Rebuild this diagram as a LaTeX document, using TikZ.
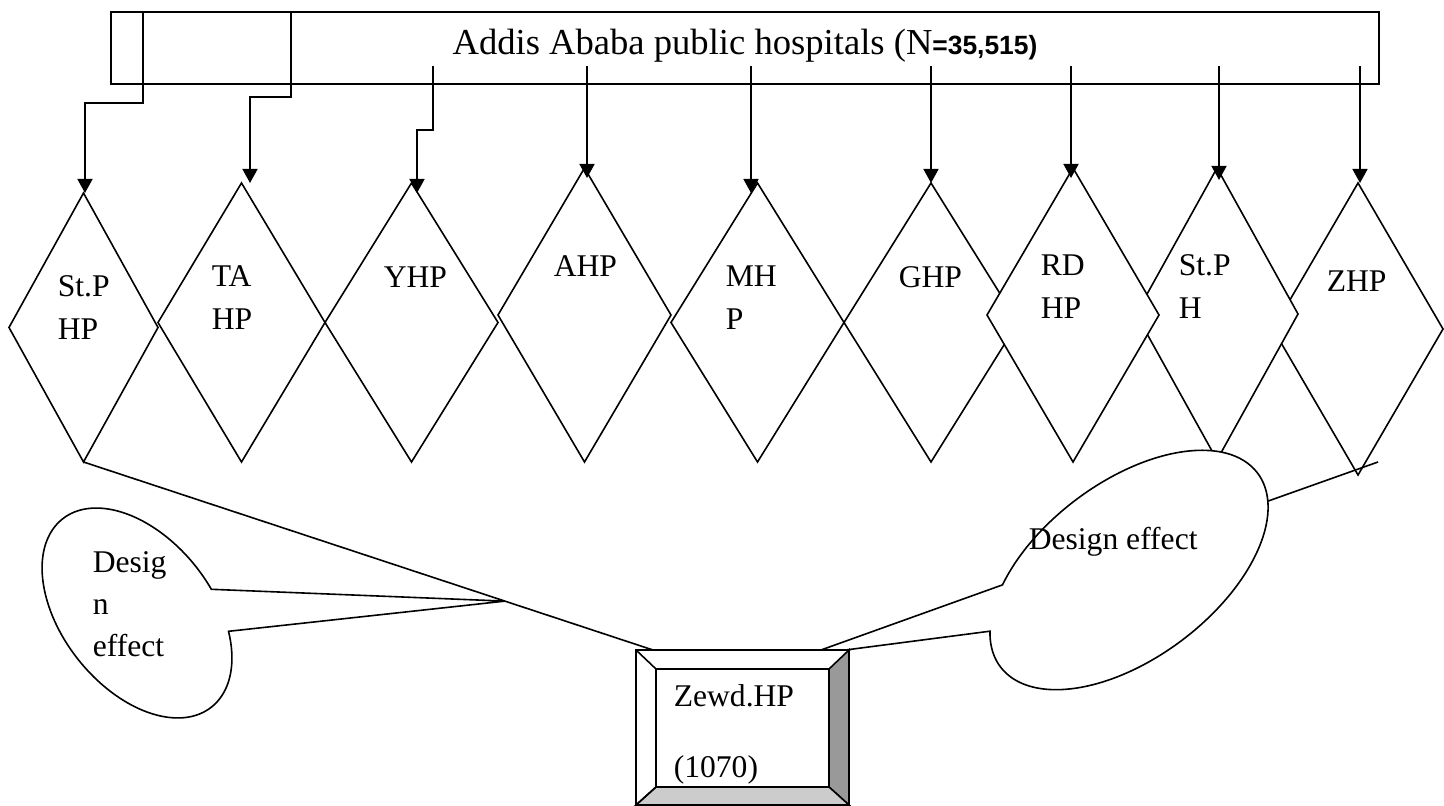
\documentclass[tikz,border=0pt]{standalone}
\usepackage{fontspec}
\setmainfont{Liberation Serif}
\newfontfamily\arialfont{Liberation Sans}
\usetikzlibrary{shapes.geometric,arrows.meta,calc}
\definecolor{bevdark}{HTML}{999999}
\definecolor{bevlight}{HTML}{CCCCCC}
\newcommand\bodyfont{\fontsize{15.8pt}{21.2pt}\selectfont}
\begin{document}
\begin{tikzpicture}[x=0.5pt,y=-0.5pt,line width=0.8pt,
  dia/.style={diamond, draw, fill=white, inner sep=0pt, outer sep=0pt},
  lbl/.style={anchor=base west, inner sep=0pt, align=left, font=\bodyfont},
  conn/.style={draw, -{Triangle[length=7pt,width=7.5pt]}},
  callout/.style={draw, fill=white},
  boxstyle/.style={draw, inner sep=0pt, outer sep=0pt}]
\useasboundingbox (0,0) rectangle (1444,806);

% top box and title
\node[boxstyle, minimum width=634pt, minimum height=36pt] (box) at (745,48) {};
\node[anchor=base, inner sep=0pt] (title) at (745,55)
  {\fontsize{18.3pt}{22pt}\selectfont Addis Ababa public hospitals (N{\arialfont\bfseries\fontsize{13.2pt}{15pt}\selectfont =35,515)}};

% diamonds
\node[dia, minimum width=74.5pt, minimum height=134.5pt] (d1) at (83.5,327.5) {};
\node[dia, minimum width=83.5pt, minimum height=139.5pt] (d2) at (241.5,322.5) {};
\node[dia, minimum width=86.5pt, minimum height=139.5pt] (d3) at (411.5,322.5) {};
\node[dia, minimum width=86.5pt, minimum height=147pt] (d4) at (584.5,315) {};
\node[dia, minimum width=86.5pt, minimum height=139.5pt] (d5) at (757.5,322.5) {};
\node[dia, minimum width=87pt, minimum height=139.5pt] (d6) at (931,322.5) {};
\node[dia, minimum width=85pt, minimum height=146pt] (d9) at (1358,329) {};
\node[dia, minimum width=81pt, minimum height=146pt] (d8) at (1217,314) {};
\node[dia, minimum width=86pt, minimum height=147pt] (d7) at (1073,315) {};

% arrows from the box
\coordinate (s1) at (143,12);  \coordinate (b1) at (85,103);
\coordinate (s2) at (291,12);  \coordinate (b2) at (250,97);
\coordinate (s3) at (433,66);  \coordinate (b3) at (417,130);
\coordinate (s4) at (587,66);
\coordinate (s5) at (751,66);
\coordinate (s6) at (931,66);
\coordinate (s7) at (1071,66);
\coordinate (s8) at (1219,66);
\coordinate (s9) at (1360,66);
\draw[conn] (s1) |- (b1) -- (b1 |- d1.north);
\draw[conn] (s2) |- (b2) -- (b2 |- d2.north);
\draw[conn] (s3) |- (b3) -- ($(b3 |- d3.north)+(0,10)$);
\draw[conn] (s4) -- ($(s4 |- d4.north)+(0,10)$);
\draw[conn] (s5) -- ($(s5 |- d5.north)+(0,10)$);
\draw[conn] (s6) -- (s6 |- d6.north);
\draw[conn] (s7) -- ($(s7 |- d7.north)+(0,10)$);
\draw[conn] (s8) -- ($(s8 |- d8.north)+(0,12)$);
\draw[conn] (s9) -- (s9 |- d9.north);

% bottom box position (drawn on top later)
\path (742.5,727.5) node[boxstyle, minimum width=106.5pt, minimum height=77.5pt] (zewd) {};

% connector lines to the bottom box
\coordinate (zl) at ($(zewd.north west)+(17,0)$);
\draw (d1.south) -- (zl);
\coordinate (zs) at (1378,462);
\draw (zs) -- (zewd.north east);

% callouts
\coordinate (tipL) at ($(d1.south)!0.74!(zl)$);
\begin{scope}[shift={(137,613)}, rotate=-51.6]
\draw[callout] (tipL) -- (306.4:120 and 75)
  arc[start angle=306.4, end angle=643.3, x radius=120, y radius=75] -- cycle;
\end{scope}
\coordinate (tipR) at (807,655);
\begin{scope}[shift={(1129,570)}, rotate=37]
\draw[callout] (tipR) -- (226.9:161 and 88)
  arc[start angle=226.9, end angle=563.3, x radius=161, y radius=88] -- cycle;
\end{scope}

% bevelled bottom box
\draw[fill=white] (zewd.north west) rectangle (zewd.south east);
\coordinate (ia) at ($(zewd.north west)+(20,19)$);
\coordinate (ib) at ($(zewd.north east)+(-20,19)$);
\coordinate (ic) at ($(zewd.south east)+(-20,-18)$);
\coordinate (id) at ($(zewd.south west)+(20,-18)$);
\draw[fill=bevdark] (zewd.north east) -- (zewd.south east) -- (ic) -- (ib) -- cycle;
\draw[fill=bevlight] (zewd.south west) -- (zewd.south east) -- (ic) -- (id) -- cycle;
\draw (zewd.north west) -- (ia);
\draw (zewd.south west) -- (id);
\draw (ia) rectangle (ic);

% texts (base anchor of a multi-line node is the last line's baseline)
\node[lbl] (zt1) at (673,706) {Zewd.HP};
\node[lbl] (zt2) at (673,777) {(1070)};
\node[lbl] (l1) at (57,339.4) {St.P\\HP};
\node[lbl] (l2) at (211,329.4) {TA\\HP};
\node[lbl] (l3) at (383,288) {YHP};
\node[lbl] (l4) at (553,277) {AHP};
\node[lbl] (l5) at (725,329.4) {MH\\P};
\node[lbl] (l6) at (898,288) {GHP};
\node[lbl] (l7) at (1040,318.4) {RD\\HP};
\node[lbl] (l8) at (1178,318.4) {St.P\\H};
\node[lbl] (l9) at (1326,292) {ZHP};
\node[lbl] (cl) at (92,656.8) {Desig\\n\\effect};
\node[lbl] (cr) at (1028,549) {Design effect};
\end{tikzpicture}
\end{document}
